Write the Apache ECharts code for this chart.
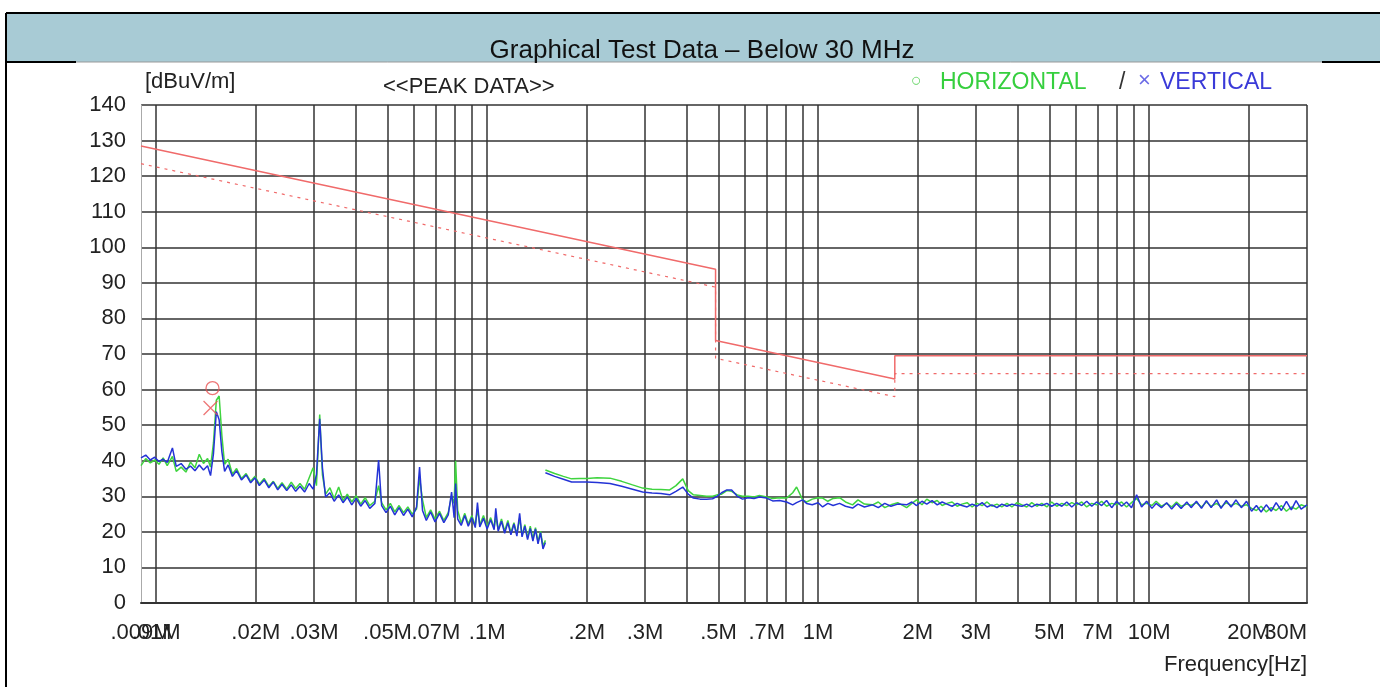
<!DOCTYPE html>
<html>
<head>
<meta charset="utf-8">
<title>Graphical Test Data – Below 30 MHz</title>
<script src="https://cdn.jsdelivr.net/npm/echarts@6/dist/echarts.min.js"></script>
<style>
  html, body { margin: 0; padding: 0; background: #fff; }
  #chart { width: 1380px; height: 687px; }
</style>
</head>
<body>
<div id="chart"></div>
<script>
// frequencies in MHz, levels in dBuV/m
const gridFreqs = [0.01, 0.02, 0.03, 0.04, 0.05, 0.06, 0.07, 0.08, 0.09,
  0.1, 0.2, 0.3, 0.4, 0.5, 0.6, 0.7, 0.8, 0.9,
  1, 2, 3, 4, 5, 6, 7, 8, 9, 10, 20, 30];
const labelFreqs = [0.009, 0.01, 0.02, 0.03, 0.05, 0.07, 0.1, 0.2, 0.3, 0.5, 0.7, 1, 2, 3, 5, 7, 10, 20, 30];
const tickLabels = ['.009M', '.01M', '.02M', '.03M', '.05M', '.07M', '.1M', '.2M', '.3M', '.5M', '.7M',
  '1M', '2M', '3M', '5M', '7M', '10M', '20M', '30M'];

// limit lines
const limitFreq = [0.009, 0.49, 0.49, 1.705, 1.705, 30];
const limitPeak = [128.5, 93.8, 73.8, 63.0, 69.5, 69.5];
const limitAvg = [123.5, 88.8, 68.8, 58.0, 64.5, 64.5];

// 9 kHz - 150 kHz sweep
const freqLow = [0.0090, 0.0093, 0.0096, 0.0099, 0.0102, 0.0105, 0.0108, 0.0112, 0.0115, 0.0119,
  0.0123, 0.0127, 0.0131, 0.0135, 0.0139, 0.0143, 0.0146, 0.0149, 0.0152, 0.0155,
  0.0158, 0.0161, 0.0165, 0.0170, 0.0175, 0.0181, 0.0187, 0.0193, 0.0199, 0.0205,
  0.0212, 0.0219, 0.0226, 0.0233, 0.0240, 0.0248, 0.0256, 0.0264, 0.0272, 0.0281,
  0.0290, 0.0298, 0.0305, 0.0312, 0.0318, 0.0325, 0.0335, 0.0345, 0.0356, 0.0367,
  0.0378, 0.0390, 0.0402, 0.0415, 0.0428, 0.0442, 0.0458, 0.0470, 0.0480, 0.0495,
  0.0510, 0.0526, 0.0542, 0.0559, 0.0576, 0.0594, 0.0612, 0.0625, 0.0638, 0.0655,
  0.0675, 0.0696, 0.0718, 0.0740, 0.0763, 0.0781, 0.0795, 0.0803, 0.0815, 0.0835,
  0.0856, 0.0877, 0.0899, 0.0921, 0.0935, 0.0950, 0.0975, 0.1000, 0.1025, 0.1050,
  0.1062, 0.1080, 0.1105, 0.1130, 0.1155, 0.1180, 0.1205, 0.1230, 0.1254, 0.1275,
  0.1300, 0.1325, 0.1350, 0.1375, 0.1400, 0.1425, 0.1450, 0.1475, 0.1500];
const horizLow = [38.6, 40.6, 39.4, 40.2, 39.0, 40.8, 38.6, 41.2, 37.0, 38.2,
  36.8, 39.6, 38.0, 41.8, 39.2, 40.6, 38.2, 45.0, 57.0, 58.2,
  47.0, 39.0, 40.4, 36.2, 37.8, 35.0, 36.4, 34.2, 35.6, 33.4,
  35.0, 32.8, 34.2, 32.2, 33.8, 32.0, 34.0, 32.2, 33.6, 32.0,
  35.2, 38.0, 33.0, 53.0, 36.0, 30.6, 32.4, 29.4, 32.6, 28.8,
  30.6, 28.4, 30.2, 27.8, 29.6, 27.4, 28.6, 33.0, 28.2, 26.2,
  28.0, 25.6, 27.4, 25.4, 27.0, 25.0, 26.4, 35.2, 29.0, 24.0,
  26.2, 23.6, 25.8, 23.2, 25.4, 30.0, 28.0, 40.0, 26.0, 22.4,
  25.2, 22.2, 24.6, 21.8, 26.4, 22.0, 24.6, 21.4, 24.0, 21.2,
  24.2, 20.6, 23.6, 20.2, 23.2, 19.8, 22.6, 19.4, 23.8, 19.0,
  22.0, 18.4, 21.6, 18.0, 21.2, 17.2, 20.2, 16.0, 17.6];
const vertLow = [40.8, 41.6, 40.2, 41.0, 39.8, 40.4, 39.5, 43.6, 38.4, 39.2,
  37.6, 38.5, 37.2, 38.8, 37.4, 38.6, 35.8, 42.0, 53.8, 51.5,
  42.5, 37.0, 38.8, 35.6, 37.2, 34.6, 36.0, 33.8, 35.2, 33.0,
  34.6, 32.4, 34.0, 31.8, 33.4, 31.6, 33.2, 31.4, 32.8, 31.2,
  33.6, 32.0, 36.0, 51.8, 38.0, 29.8, 31.0, 28.6, 30.4, 28.2,
  29.8, 27.6, 29.4, 27.2, 28.8, 26.6, 28.0, 40.2, 27.4, 25.4,
  27.2, 24.8, 26.8, 24.6, 26.4, 24.2, 27.0, 38.2, 26.0, 23.2,
  25.6, 22.8, 25.2, 22.6, 24.8, 31.2, 24.0, 33.6, 23.6, 21.8,
  24.6, 21.6, 24.0, 21.2, 28.2, 21.4, 23.8, 20.8, 23.4, 20.6,
  26.6, 20.2, 23.0, 19.6, 22.6, 19.2, 22.2, 18.8, 25.2, 18.6,
  21.6, 17.8, 21.0, 17.4, 20.8, 16.6, 19.8, 15.2, 17.0];

// 150 kHz - 30 MHz sweep
const freqHigh = [0.150, 0.160, 0.170, 0.180, 0.190, 0.200, 0.215, 0.235, 0.255, 0.275,
  0.295, 0.315, 0.335, 0.356, 0.372, 0.390, 0.405, 0.420, 0.440, 0.460,
  0.480, 0.495, 0.511, 0.530, 0.548, 0.570, 0.591, 0.615, 0.640, 0.665,
  0.699, 0.729, 0.765, 0.803, 0.838, 0.861, 0.898, 0.923, 0.960, 1.000,
  1.032, 1.070, 1.110, 1.161, 1.210, 1.271, 1.320, 1.380, 1.461, 1.520,
  1.590, 1.660, 1.740, 1.851, 1.920, 1.984, 2.06, 2.13, 2.21, 2.29,
  2.37, 2.45, 2.54, 2.63, 2.72, 2.82, 2.92, 3.02, 3.13, 3.24,
  3.35, 3.47, 3.59, 3.72, 3.85, 3.99, 4.13, 4.27, 4.42, 4.58,
  4.74, 4.91, 5.08, 5.26, 5.45, 5.64, 5.84, 6.04, 6.26, 6.48,
  6.71, 6.94, 7.19, 7.44, 7.71, 7.98, 8.26, 8.55, 8.85, 9.17,
  9.49, 9.83, 10.2, 10.5, 10.9, 11.3, 11.7, 12.1, 12.5, 13.0,
  13.4, 13.9, 14.4, 14.9, 15.4, 16.0, 16.5, 17.1, 17.7, 18.3,
  19.0, 19.7, 20.4, 21.1, 21.8, 22.6, 23.4, 24.2, 25.1, 26.0,
  26.9, 27.8, 28.8, 30.0];
const horizHigh = [37.4, 36.4, 35.6, 34.9, 35.0, 35.0, 35.2, 35.1, 34.2, 33.2,
  32.3, 32.0, 31.9, 31.8, 33.0, 34.9, 31.6, 30.4, 30.2, 30.0,
  30.0, 30.4, 30.6, 31.6, 31.4, 30.4, 30.0, 30.0, 29.8, 30.2,
  29.8, 29.4, 29.6, 29.5, 31.0, 32.6, 29.0, 28.4, 29.2, 29.6,
  29.5, 28.6, 29.4, 29.6, 28.4, 27.6, 29.0, 27.8, 27.6, 28.4,
  26.8, 27.6, 28.2, 26.8, 28.0, 29.0, 27.6, 29.2, 28.2, 28.8,
  27.4, 28.0, 28.4, 27.2, 27.8, 28.2, 27.0, 28.0, 27.4, 28.4,
  27.2, 27.8, 27.0, 28.0, 27.0, 28.2, 27.6, 27.0, 28.2, 27.2,
  28.0, 27.0, 28.4, 27.2, 28.0, 27.4, 28.2, 27.6, 28.4, 27.0,
  28.0, 27.6, 28.6, 27.2, 28.0, 27.6, 28.4, 27.0, 28.2, 29.4,
  27.6, 28.0, 27.4, 28.6, 27.2, 28.0, 27.0, 28.4, 27.2, 27.8,
  27.4, 28.2, 27.0, 28.4, 27.2, 28.0, 27.0, 28.2, 27.4, 28.0,
  27.2, 27.6, 26.6, 26.0, 27.2, 25.6, 26.8, 26.0, 27.4, 25.8,
  27.0, 26.4, 27.6, 27.0];
const vertHigh = [36.6, 35.6, 34.8, 34.0, 34.0, 34.0, 33.9, 33.6, 32.8, 32.0,
  31.2, 30.9, 30.8, 30.4, 31.4, 32.6, 30.6, 29.5, 29.2, 29.2,
  29.3, 30.0, 31.0, 31.8, 31.8, 30.0, 29.2, 29.6, 29.4, 29.8,
  29.5, 28.7, 28.8, 28.4, 27.6, 28.2, 29.0, 28.0, 27.6, 28.2,
  27.0, 28.0, 27.4, 28.0, 27.2, 26.7, 27.8, 27.0, 27.6, 26.8,
  28.0, 27.2, 27.8, 27.6, 28.4, 27.4, 28.6, 27.8, 28.8, 27.6,
  28.4, 27.8, 27.2, 28.0, 27.4, 27.0, 27.8, 27.2, 28.2, 27.0,
  27.6, 26.8, 27.8, 27.2, 27.8, 27.4, 27.2, 27.8, 27.0, 27.8,
  27.4, 28.0, 27.2, 28.0, 27.2, 28.4, 27.0, 28.2, 27.4, 28.6,
  27.2, 28.4, 27.4, 28.8, 26.8, 28.6, 27.2, 28.4, 26.8, 30.4,
  27.0, 28.6, 26.6, 28.0, 26.8, 28.2, 26.4, 28.0, 26.6, 28.4,
  26.8, 28.6, 26.6, 28.8, 26.8, 29.0, 26.6, 28.8, 27.0, 29.0,
  26.8, 28.6, 25.8, 27.4, 25.6, 27.6, 25.8, 28.2, 26.0, 28.6,
  26.2, 28.8, 26.4, 27.6];

// peak markers
const peakHoriz = [[0.0148, 60.4]];
const peakVert = [[0.0146, 54.8]];

const lg = f => Math.log10(f);
const toPoints = (fs, vs) => fs.map((f, i) => [lg(f), vs[i]]);
const labelOf = v => {
  const i = labelFreqs.findIndex(f => Math.abs(lg(f) - v) < 1e-6);
  return i >= 0 ? tickLabels[i] : '';
};
const xMin = lg(0.009), xMax = lg(30);
// inner labels go on the main axis, the two end labels on a second, bare axis
const innerLabelValues = labelFreqs.slice(1, -1).map(lg);
const endLabelValues = [xMin + 1e-9, xMax - 1e-9];

const GREEN = '#3fd43f';
const BLUE = '#2433d6';
const RED = '#f06a6a';
const FONT = 'Liberation Sans, Arial, sans-serif';
const labelStyle = { fontFamily: FONT, fontSize: 22, color: '#222' };

const chart = echarts.init(document.getElementById('chart'));

chart.setOption({
  backgroundColor: '#fff',
  animation: false,
  title: [
    {
      text: 'Graphical Test Data – Below 30 MHz',
      left: 697, top: 33, textAlign: 'center',
      textStyle: { fontFamily: FONT, fontSize: 26, fontWeight: 'normal', color: '#111' }
    },
    {
      text: '<<PEAK DATA>>',
      left: 378, top: 71,
      textStyle: { fontFamily: FONT, fontSize: 22, fontWeight: 'normal', color: '#222' }
    }
  ],
  graphic: [
    { type: 'rect', shape: { x: 7, y: 14, width: 1373, height: 48 }, style: { fill: '#a8cbd5' }, silent: true },
    { type: 'line', shape: { x1: 6, y1: 13, x2: 1380, y2: 13 }, style: { stroke: '#000', lineWidth: 2 } },
    { type: 'line', shape: { x1: 6, y1: 13, x2: 6, y2: 687 }, style: { stroke: '#000', lineWidth: 2 } },
    { type: 'line', shape: { x1: 6, y1: 62, x2: 76, y2: 62 }, style: { stroke: '#000', lineWidth: 2 } },
    { type: 'line', shape: { x1: 76, y1: 62, x2: 1322, y2: 62 }, style: { stroke: '#999', lineWidth: 1 } },
    { type: 'line', shape: { x1: 1322, y1: 62, x2: 1380, y2: 62 }, style: { stroke: '#000', lineWidth: 2 } },
    { type: 'text', left: 145, top: 71, style: { text: '[dBuV/m]', fill: '#222', font: '22px ' + FONT } },
    { type: 'text', left: 911, top: 72, style: { text: '○', fill: '#6ad66a', font: '18px ' + FONT } },
    { type: 'text', left: 940, top: 71, style: { text: 'HORIZONTAL', fill: '#36cf3e', font: '23px ' + FONT } },
    { type: 'text', left: 1119, top: 71, style: { text: '/', fill: '#333', font: '23px ' + FONT } },
    { type: 'text', left: 1138, top: 70, style: { text: '×', fill: '#6a6ae6', font: '22px ' + FONT } },
    { type: 'text', left: 1160, top: 71, style: { text: 'VERTICAL', fill: '#3a3ad8', font: '23px ' + FONT } }
  ],
  grid: {
    left: 141, right: 73, top: 105, bottom: 84,
    containLabel: false, outerBoundsMode: 'none'
  },
  xAxis: [
    {
      type: 'value',
      min: xMin,
      max: xMax,
      name: 'Frequency[Hz]',
      nameLocation: 'end',
      nameGap: 0,
      nameTextStyle: {
        fontFamily: FONT, fontSize: 22, color: '#222',
        align: 'right', verticalAlign: 'top', padding: [51, 0, 0, 0]
      },
      axisLine: { show: true, lineStyle: { color: '#333', width: 2 } },
      axisTick: { show: false, customValues: gridFreqs.map(lg) },
      splitLine: { show: true, lineStyle: { color: '#333', width: 1.5 } },
      axisLabel: Object.assign({
        customValues: innerLabelValues,
        formatter: labelOf,
        interval: 0,
        hideOverlap: false,
        showMinLabel: true,
        showMaxLabel: true,
        margin: 19
      }, labelStyle)
    },
    {
      type: 'value',
      position: 'bottom',
      min: xMin,
      max: xMax,
      axisLine: { show: false },
      axisTick: { show: false },
      splitLine: { show: false },
      axisLabel: Object.assign({
        customValues: endLabelValues,
        formatter: labelOf,
        interval: 0,
        hideOverlap: false,
        showMinLabel: true,
        showMaxLabel: true,
        alignMaxLabel: 'right',
        margin: 19
      }, labelStyle)
    }
  ],
  yAxis: {
    type: 'value',
    min: 0, max: 140, interval: 10,
    axisLine: { show: true, onZero: false, lineStyle: { color: '#aaa', width: 1 } },
    axisTick: { show: false },
    splitLine: { show: true, lineStyle: { color: '#333', width: 1.5 } },
    axisLabel: Object.assign({ margin: 15 }, labelStyle)
  },
  series: [
    {
      name: 'Limit', type: 'line', symbol: 'none',
      data: toPoints(limitFreq, limitPeak),
      lineStyle: { color: RED, width: 1.5 }, z: 3
    },
    {
      name: 'Limit margin', type: 'line', symbol: 'none',
      data: toPoints(limitFreq, limitAvg),
      lineStyle: { color: RED, width: 1.2, type: [3, 5] }, z: 3
    },
    {
      name: 'HORIZONTAL', type: 'line', symbol: 'none',
      data: toPoints(freqLow, horizLow),
      lineStyle: { color: GREEN, width: 1.5 }, z: 4
    },
    {
      name: 'HORIZONTAL', type: 'line', symbol: 'none',
      data: toPoints(freqHigh, horizHigh),
      lineStyle: { color: GREEN, width: 1.5 }, z: 4
    },
    {
      name: 'VERTICAL', type: 'line', symbol: 'none',
      data: toPoints(freqLow, vertLow),
      lineStyle: { color: BLUE, width: 1.5 }, z: 5
    },
    {
      name: 'VERTICAL', type: 'line', symbol: 'none',
      data: toPoints(freqHigh, vertHigh),
      lineStyle: { color: BLUE, width: 1.5 }, z: 5
    },
    {
      name: 'Peak H', type: 'scatter',
      data: peakHoriz.map(p => [lg(p[0]), p[1]]),
      symbol: 'circle', symbolSize: 13,
      itemStyle: { color: 'rgba(0,0,0,0)', borderColor: '#e85555', borderWidth: 1.3 }, z: 6
    },
    {
      name: 'Peak V', type: 'scatter',
      data: peakVert.map(p => [lg(p[0]), p[1]]),
      symbol: 'path://M0,0L10,10M10,0L0,10', symbolSize: 14,
      itemStyle: { color: 'rgba(0,0,0,0)', borderColor: '#e85555', borderWidth: 1.3 }, z: 6
    }
  ]
});
</script>
</body>
</html>
